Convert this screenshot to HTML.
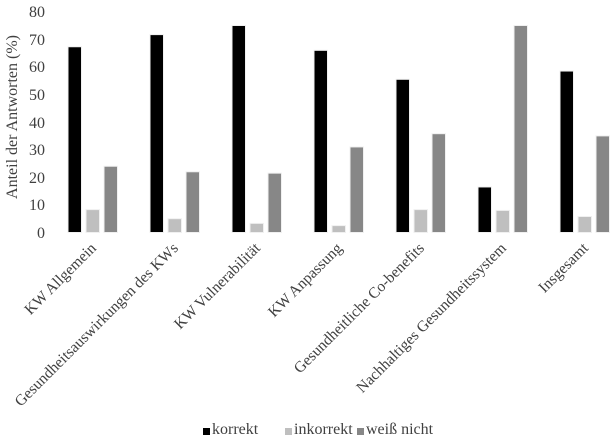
<!DOCTYPE html>
<html><head><meta charset="utf-8"><style>
html,body{margin:0;padding:0;background:#fff;}
svg{display:block;}
text{font-family:"Liberation Serif",serif;}
.lg{position:absolute;top:421px;font:16px "Liberation Serif",serif;color:#404040;white-space:nowrap;}
</style></head><body>
<svg width="610" height="437" xmlns="http://www.w3.org/2000/svg" font-family="Liberation Serif, serif">
<g font-size="16" fill="#404040" text-anchor="end">
<text x="45" y="238">0</text>
<text x="45" y="210">10</text>
<text x="45" y="183">20</text>
<text x="45" y="155">30</text>
<text x="45" y="128">40</text>
<text x="45" y="100">50</text>
<text x="45" y="72">60</text>
<text x="45" y="45">70</text>
<text x="45" y="17">80</text>
</g>
<text transform="translate(17,117) rotate(-90)" font-size="16" fill="#404040" text-anchor="middle">Anteil der Antworten (%)</text>
<g id="bars" stroke="#f0f0f0" stroke-width="1"></g>
<g font-size="15.5" fill="#404040" text-anchor="end" id="labels"></g>
<rect x="203" y="428" width="7" height="7" fill="#000"/>
<rect x="285" y="428" width="7" height="7" fill="#bfbfbf"/>
<rect x="357" y="428" width="7" height="7" fill="#878787"/>
</svg>
<div class="lg" style="left:212px">korrekt</div>
<div class="lg" style="left:294px">inkorrekt</div>
<div class="lg" style="left:366px">weiß nicht</div>
<script>
var d=[[67.3,8.3,24],[71.7,5,22],[75,3.3,21.5],[66,2.5,31],[55.5,8.3,35.8],[16.5,8,75],[58.5,5.8,35]];
var n=["KW Allgemein","Gesundheitsauswirkungen des KWs","KW Vulnerabilität","KW Anpassung","Gesundheitliche Co-benefits","Nachhaltiges Gesundheitssystem","Insgesamt"];
var c=["#000","#bfbfbf","#878787"],ns="http://www.w3.org/2000/svg";
var B=document.getElementById("bars"),L=document.getElementById("labels");
for(var i=0;i<7;i++){var cx=92+82*i;
for(var j=0;j<3;j++){var r=document.createElementNS(ns,"rect");var h=d[i][j]*2.76;
r.setAttribute("x",cx-24+18*j);r.setAttribute("y",232.5-h);r.setAttribute("width",13.5);r.setAttribute("height",h);r.setAttribute("fill",c[j]);B.appendChild(r);}
var t=document.createElementNS(ns,"text");t.textContent=n[i];t.setAttribute("transform","translate("+(cx+5)+",249) rotate(-45)");L.appendChild(t);}
</script>
</body></html>
